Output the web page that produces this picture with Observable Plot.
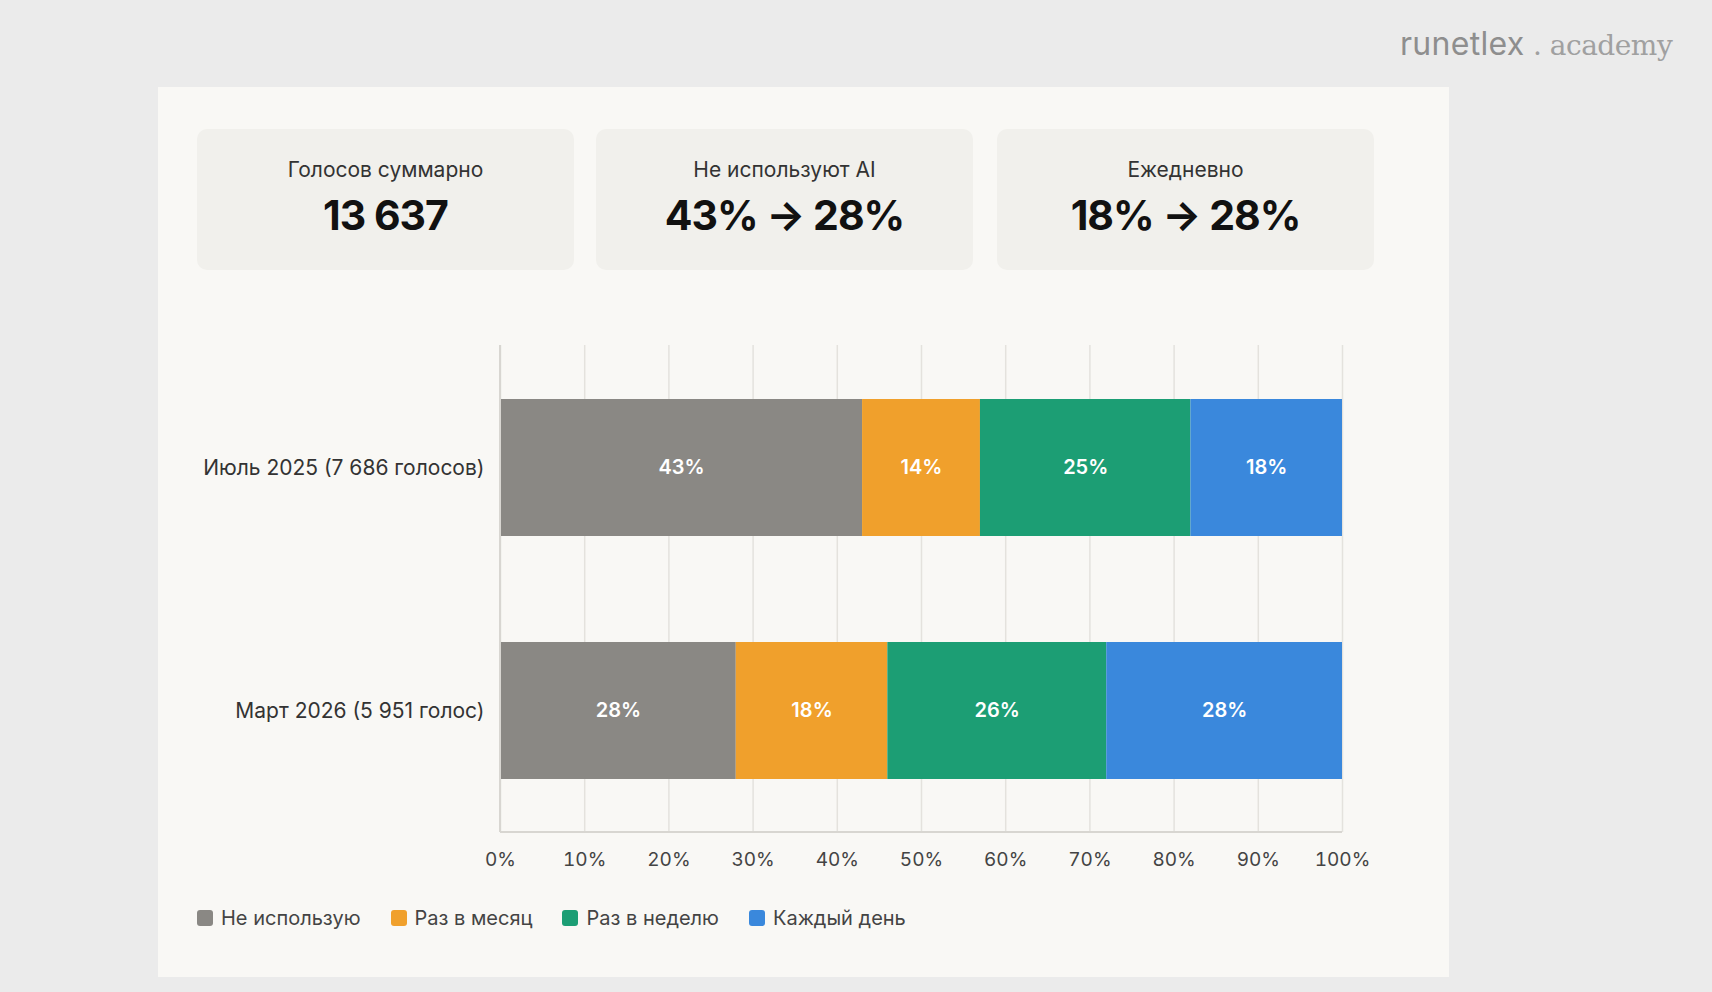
<!DOCTYPE html>
<html><head><meta charset="utf-8">
<script src="https://cdn.jsdelivr.net/npm/d3@7"></script>
<script src="https://cdn.jsdelivr.net/npm/@observablehq/plot@0.6"></script>
<style>
body{margin:0;width:1712px;height:992px;background:#ebebeb;font-family:Inter,"Noto Sans",sans-serif;position:relative;overflow:hidden}
#logo{position:absolute;left:1400px;top:24px;font-size:32px;color:#8e8e8e;letter-spacing:0.3px}
#logo span{font-family:"DejaVu Serif",serif;font-weight:300;font-size:28px;color:#a0a0a0;letter-spacing:-0.5px}
#panel{position:absolute;left:158px;top:87px;width:1291px;height:890px;background:#f9f8f5}
.card{position:absolute;top:42px;width:377px;height:141px;background:#f1f0ec;border-radius:10px;text-align:center}
.card .l{margin-top:28px;font-size:21px;color:#333}
.card .v{margin-top:8px;font-size:41px;font-weight:700;color:#111;letter-spacing:-1px}
#chart{position:absolute;left:0;top:213px}
#legend{position:absolute;left:39px;top:819px;display:flex;gap:30px;font-size:20px;color:#444}
#legend div{display:flex;align-items:center;gap:8px}
#legend i{width:16px;height:16px;border-radius:3px;display:inline-block}
</style></head><body>
<div id="logo">runetlex<span> . academy</span></div>
<div id="panel">
<div class="card" style="left:39px"><div class="l">Голосов суммарно</div><div class="v">13 637</div></div>
<div class="card" style="left:438px"><div class="l">Не используют AI</div><div class="v">43% → 28%</div></div>
<div class="card" style="left:839px"><div class="l">Ежедневно</div><div class="v">18% → 28%</div></div>
<div id="chart"></div>
<div id="legend"></div>
</div>
<script>
const periods = ["Июль 2025 (7 686 голосов)", "Март 2026 (5 951 голос)"];
const series = ["Не использую", "Раз в месяц", "Раз в неделю", "Каждый день"];
const colors = ["#8a8884", "#f0a02c", "#1c9e74", "#3a88dc"];
const july = [43, 14, 25, 18];
const march = [28, 18, 26, 28];
const xTicks = [0,10,20,30,40,50,60,70,80,90,100];

const data = [];
[july, march].forEach((vals, i) => vals.forEach((v, j) => data.push({period: periods[i], series: series[j], v})));

const stackOpts = {x: "v", y: "period", z: "series", order: series};
const plot = Plot.plot({
  width: 1291, height: 582,
  marginLeft: 342, marginRight: 107, marginTop: 45, marginBottom: 50,
  style: {fontFamily: "Inter, 'Noto Sans', sans-serif", background: "transparent"},
  x: {domain: [0, 100], ticks: xTicks, tickFormat: d => d + "%", tickSize: 0, tickPadding: 20, label: null},
  y: {domain: periods, padding: 0, tickSize: 0, tickPadding: 16, label: null},
  color: {domain: series, range: colors},
  marks: [
    Plot.ruleX(xTicks, {stroke: "#e4e2dd", strokeWidth: 1.5}),
    Plot.barX(data, Plot.stackX({...stackOpts, fill: "series", insetTop: 53, insetBottom: 53})),
    Plot.text(data, Plot.stackX({...stackOpts, text: d => d.v + "%", fill: "white", fontSize: 20, fontWeight: 600})),
    Plot.axisX({ticks: xTicks, tickFormat: d => d + "%", tickSize: 0, tickPadding: 20, fontSize: 19, fill: "#444", label: null}),
    Plot.axisY({tickSize: 0, tickPadding: 16, fontSize: 21, fill: "#333", label: null})
  ]
});
document.getElementById("chart").append(plot);
const svg = d3.select(plot);
svg.append("line").attr("x1", 342).attr("x2", 1184).attr("y1", 532).attr("y2", 532).attr("stroke", "#d8d6d1").attr("stroke-width", 2);
svg.append("line").attr("x1", 342).attr("x2", 342).attr("y1", 45).attr("y2", 532).attr("stroke", "#d8d6d1").attr("stroke-width", 2);

const lg = document.getElementById("legend");
series.forEach((s, i) => { const d = document.createElement("div"); d.innerHTML = `<i style="background:${colors[i]}"></i>${s}`; lg.append(d); });
</script>
</body></html>
